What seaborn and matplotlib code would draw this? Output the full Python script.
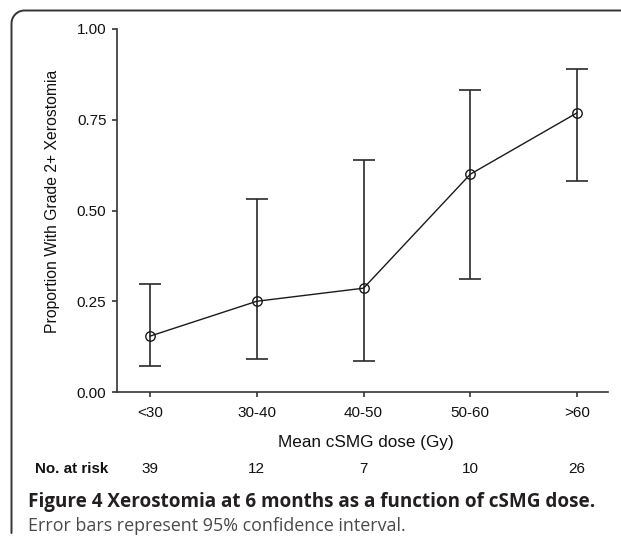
import numpy as np
import matplotlib
matplotlib.use("Agg")
import matplotlib.pyplot as plt
import seaborn as sns
from matplotlib.lines import Line2D
import matplotlib.transforms as mtransforms

# ---- data ----
categories = ["<30", "30-40", "40-50", "50-60", ">60"]
proportion = [0.154, 0.250, 0.286, 0.600, 0.769]
ci_lower = [0.073, 0.090, 0.085, 0.312, 0.581]
ci_upper = [0.298, 0.532, 0.639, 0.831, 0.890]
at_risk = ["39", "12", "7", "10", "26"]
yticks = [0.00, 0.25, 0.50, 0.75, 1.00]
ytick_labels = ["0.00", "0.25", "0.50", "0.75", "1.00"]

sns.set_theme(style="ticks")
plt.rcParams['font.family'] = ['Liberation Sans', 'DejaVu Sans']

W, H = 621, 543
fig = plt.figure(figsize=(W / 100, H / 100), dpi=100)
ax = fig.add_axes([117 / W, 1 - 392 / H, (608 - 117) / W, (392 - 29) / H])

line_col = "#1a1a1a"
sns.pointplot(x=categories, y=proportion, order=categories, errorbar=None,
              color=line_col, markers="o", linestyles="-", ax=ax,
              markersize=6.8, markerfacecolor="none", markeredgewidth=1.0,
              linewidth=1.0, zorder=3)

prop = np.array(proportion)
lo = np.array(ci_lower)
hi = np.array(ci_upper)
ax.errorbar(np.arange(len(categories)), prop, yerr=[prop - lo, hi - prop],
            fmt="none", ecolor="#2a2a2a", elinewidth=1.2, capsize=7.6,
            capthick=1.2, zorder=2)

ax.set_ylim(0, 1.0)
ax.set_xlim(-0.31, 4.29)
ax.set_yticks(yticks)
ax.set_yticklabels(ytick_labels)
for s in ["top", "right"]:
    ax.spines[s].set_visible(False)
for s in ["left", "bottom"]:
    ax.spines[s].set_color("#333333")
    ax.spines[s].set_linewidth(1.2)
ax.tick_params(axis="both", colors="#333333", width=1.2, length=3.6,
               labelsize=11.0, labelcolor="#111111")
ax.tick_params(axis="y", pad=4.0)
ax.tick_params(axis="x", pad=6.5)
ax.grid(False)

ax.set_xlabel("Mean cSMG dose (Gy)", fontsize=12.3, color="#111111", va="center")
ax.xaxis.set_label_coords((366 - 117) / 491, (392 - 443) / 363)
ax.set_ylabel("Proportion With Grade 2+ Xerostomia", fontsize=11.3,
              color="#111111", va="center")
ax.yaxis.set_label_coords((52 - 117) / 491, (392 - 201.5) / 363)

# number at risk row
trans = mtransforms.blended_transform_factory(ax.transData, fig.transFigure)
y_risk = 1 - 469 / H
fig.text(35 / W, y_risk, "No. at risk", fontsize=10.9, fontweight="bold",
         ha="left", va="center", color="#111111")
for i, n in enumerate(at_risk):
    ax.text(i, y_risk, n, transform=trans, fontsize=11.0, ha="center",
            va="center", color="#111111")

# caption
fig.text(28 / W, 1 - 502 / H,
         "Figure 4 Xerostomia at 6 months as a function of cSMG dose.",
         family=["Open Sans", "DejaVu Sans"], fontweight="bold", fontsize=13.6,
         ha="left", va="center", color="#231f20")
fig.text(28 / W, 1 - 526 / H,
         "Error bars represent 95% confidence interval.",
         family=["Open Sans", "DejaVu Sans"], fontsize=12.9,
         ha="left", va="center", color="#4a4a4a")

# frame: top and left edges with a rounded top-left corner (pixel units from top-left)
fx, fy, r = 11.5, 10.5, 13.0
theta = np.linspace(np.pi, np.pi / 2, 20)
arc_x = (fx + r) + r * np.cos(theta)
arc_y = (fy + r) - r * np.sin(theta)
px = np.concatenate([[fx], arc_x, [W + 5]])
py = np.concatenate([[533.0], arc_y, [fy]])
fig.lines.append(Line2D(px / W, 1 - py / H, color="#333333", linewidth=1.4,
                        transform=fig.transFigure, solid_joinstyle="round"))

fig.savefig("out.png", dpi=100)
